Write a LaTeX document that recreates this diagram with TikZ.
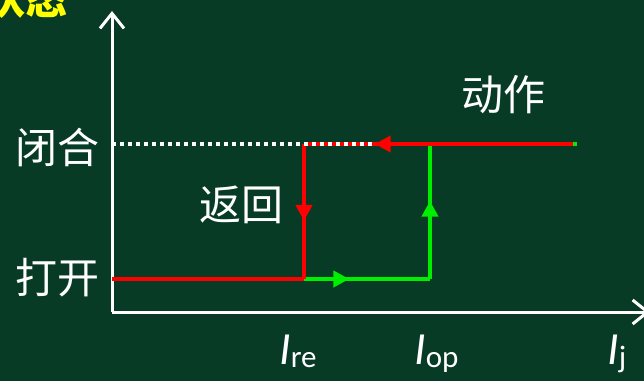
\documentclass[tikz,border=0pt]{standalone}
\usepackage{fontspec}
\setmainfont{Carlito}
\newfontfamily\cjk{Noto Sans CJK SC}
\usetikzlibrary{arrows.meta,decorations.markings}
\definecolor{bg}{HTML}{073B25}
\definecolor{myred}{HTML}{FF0000}
\definecolor{mygreen}{HTML}{00EE00}
\definecolor{myyellow}{HTML}{FFFF00}
\tikzset{
  axis/.style={white,line width=3pt,-{Straight Barb[length=15pt,width=24pt,line width=3pt]}},
  redline/.style={myred,line width=4pt},
  greenline/.style={mygreen,line width=4pt},
  midarrow/.style={postaction={decorate},decoration={markings,mark=at position #1 with {\arrow{Triangle[length=16pt,width=16pt]}}}},
  cjklabel/.style={white,font=\cjk\fontsize{42}{42}\selectfont,inner sep=0pt},
  curlabel/.style={white,font=\fontsize{46}{46}\selectfont,inner sep=0pt,anchor=base west}
}
\newcommand{\subtxt}[1]{\raisebox{-3pt}{\fontsize{31}{31}\selectfont #1}}
\begin{document}
\begin{tikzpicture}[x=1pt,y=-1pt]
\fill[bg] (0,0) rectangle (644,381);
\useasboundingbox (0,0) rectangle (644,381);
\clip (0,0) rectangle (644,381);
\coordinate (O) at (112,312);
\coordinate (Ytop) at (112,11);
\coordinate (Xend) at (650,312);
\coordinate (C1) at (112,144);
\coordinate (Cdot) at (374,144);
\coordinate (Cre) at (304,144);
\coordinate (Cop) at (430,144);
\coordinate (Cend) at (576,144);
\coordinate (O1) at (112,279);
\coordinate (Ore) at (304,279);
\coordinate (Oop) at (430,279);
% axes
\draw[axis] (O) -- (Ytop);
\draw[axis] (O) -- (Xend);
% lines
\draw[redline] (O1) -- (Ore);
\draw[greenline,midarrow=0.36] (Ore) -- (Oop);
\draw[greenline,midarrow=0.58] (Oop) -- (Cop);
\draw[redline,midarrow=0.57] (Cre) -- (Ore);
\draw[redline,midarrow=0.74] (Cend) -- (Cre);
\draw[white,line width=3.5pt,dash pattern=on 4pt off 4pt] (C1) -- (Cdot);
\fill[mygreen] (573,142) rectangle (577,146);
% labels
\node[cjklabel] (bihe) at (57,147) {闭合};
\node[cjklabel] (dakai) at (57,278) {打开};
\node[cjklabel] (dongzuo) at (503,95) {动作};
\node[cjklabel] (fanhui) at (241,205) {返回};
\node[cjklabel,myyellow,font=\cjk\bfseries\fontsize{42}{42}\selectfont,anchor=south east] (zt) at (68,19) {状态};
\node[curlabel] (Ire) at (279,364) {\textit{I}\subtxt{re}};
\node[curlabel] (Iop) at (414,364) {\textit{I}\subtxt{op}};
\node[curlabel] (Ij) at (607,364) {\textit{I}\subtxt{j}};
\end{tikzpicture}
\end{document}
